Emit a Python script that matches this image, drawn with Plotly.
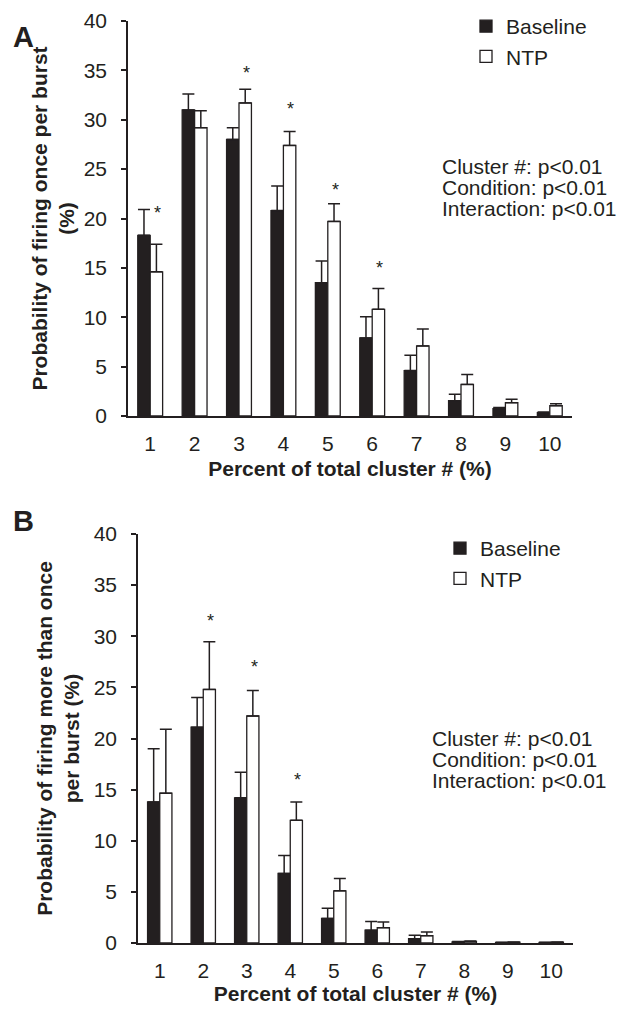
import plotly.graph_objects as go

W, H = 618, 1011
INK = "#231f20"
FONT = "Liberation Sans, Arial, sans-serif"
FS = 21

categories = [1, 2, 3, 4, 5, 6, 7, 8, 9, 10]

# Panel A: probability of firing once per burst (%)
a_baseline = [18.3, 31.0, 28.0, 20.8, 13.5, 7.9, 4.6, 1.55, 0.75, 0.35]
a_baseline_err = [2.6, 1.6, 1.2, 2.5, 2.2, 2.15, 1.55, 0.65, 0.1, 0.06]
a_ntp = [14.6, 29.2, 31.7, 27.4, 19.7, 10.8, 7.1, 3.2, 1.35, 1.05]
a_ntp_err = [2.8, 1.7, 1.4, 1.4, 1.8, 2.1, 1.7, 1.0, 0.35, 0.2]
a_star_x = [1, 3, 4, 5, 6]
a_star_y = [20.9, 35.0, 31.4, 23.2, 15.3]

# Panel B: probability of firing more than once per burst (%)
b_baseline = [13.8, 21.1, 14.2, 6.8, 2.4, 1.25, 0.42, 0.1, 0.05, 0.05]
b_baseline_err = [5.2, 2.9, 2.5, 1.75, 1.0, 0.85, 0.33, 0.05, 0.02, 0.02]
b_ntp = [14.65, 24.8, 22.2, 12.0, 5.1, 1.5, 0.72, 0.15, 0.08, 0.08]
b_ntp_err = [6.25, 4.65, 2.5, 1.8, 1.2, 0.55, 0.35, 0.05, 0.02, 0.02]
b_star_x = [2, 3, 4]
b_star_y = [31.8, 27.3, 16.2]

stats_lines = ["Cluster #: p<0.01", "Condition: p<0.01", "Interaction: p<0.01"]
y_ticks = [0, 5, 10, 15, 20, 25, 30, 35, 40]


def px_x(p):
    return p / W


def px_y(p):
    return 1 - p / H


fig = go.Figure()


def add_bars(vals, errs, name, color, xa, ya, legend, show):
    fig.add_trace(go.Bar(
        x=categories, y=vals, name=name,
        marker=dict(color=color, line=dict(color=INK, width=1.3)),
        error_y=dict(type="data", array=errs, arrayminus=[0] * len(errs),
                     symmetric=False, color=INK, thickness=1.5, width=6),
        xaxis=xa, yaxis=ya, legend=legend, showlegend=show,
    ))


add_bars(a_baseline, a_baseline_err, "Baseline", INK, "x", "y", "legend", True)
add_bars(a_ntp, a_ntp_err, "NTP", "white", "x", "y", "legend", True)
add_bars(b_baseline, b_baseline_err, "Baseline", INK, "x2", "y2", "legend2", True)
add_bars(b_ntp, b_ntp_err, "NTP", "white", "x2", "y2", "legend2", True)

axis_common = dict(showline=True, linecolor=INK, linewidth=1.5, showgrid=False,
                   zeroline=False, automargin=False,
                   tickfont=dict(family=FONT, size=FS, color=INK))

title_font = dict(family=FONT, size=FS, color=INK)

fig.update_layout(
    width=W, height=H,
    margin=dict(l=0, r=0, t=0, b=0, autoexpand=False),
    paper_bgcolor="white", plot_bgcolor="white",
    barmode="group", bargap=0.44, bargroupgap=0,
    font=dict(family=FONT, color=INK),
    xaxis=dict(domain=[px_x(128), px_x(572)], anchor="y", range=[0.5, 10.5],
               tickvals=categories, ticks="", ticklabelstandoff=8,
               title=dict(text="<b>Percent of total cluster # (%)</b>",
                          font=title_font, standoff=7),
               **axis_common),
    yaxis=dict(domain=[px_y(416), px_y(21)], anchor="x", range=[0, 40],
               tickvals=y_ticks, ticks="outside", ticklen=5, tickwidth=1.5,
               tickcolor=INK, ticklabelstandoff=10,
               title=dict(text="<b>Probability of firing once per burst<br>(%)</b>",
                          font=title_font, standoff=3),
               **axis_common),
    xaxis2=dict(domain=[px_x(138), px_x(573)], anchor="y2", range=[0.5, 10.5],
                tickvals=categories, ticks="", ticklabelstandoff=8,
                title=dict(text="<b>Percent of total cluster # (%)</b>",
                           font=title_font, standoff=5),
                **axis_common),
    yaxis2=dict(domain=[px_y(943), px_y(534)], anchor="x2", range=[0, 40],
                tickvals=y_ticks, ticks="outside", ticklen=5, tickwidth=1.5,
                tickcolor=INK, ticklabelstandoff=10,
                title=dict(text="<b>Probability of firing more than once<br>per burst (%)</b>",
                           font=title_font, standoff=8),
                **axis_common),
    legend=dict(x=px_x(466), y=px_y(6), xanchor="left", yanchor="top",
                font=dict(family=FONT, size=FS, color=INK), bgcolor="rgba(0,0,0,0)",
                tracegroupgap=0),
    legend2=dict(x=px_x(440), y=px_y(528), xanchor="left", yanchor="top",
                 font=dict(family=FONT, size=FS, color=INK), bgcolor="rgba(0,0,0,0)",
                 tracegroupgap=0),
)

ann = []
# panel letters
ann.append(dict(text="<b>A</b>", x=px_x(24), y=px_y(37), xref="paper", yref="paper",
                xanchor="center", yanchor="middle",
                showarrow=False, font=dict(family=FONT, size=29, color=INK)))
ann.append(dict(text="<b>B</b>", x=px_x(24), y=px_y(521), xref="paper", yref="paper",
                xanchor="center", yanchor="middle",
                showarrow=False, font=dict(family=FONT, size=29, color=INK)))
# stats text
for i, line in enumerate(stats_lines):
    ann.append(dict(text=line, x=px_x(440), y=px_y(167 + 20.7 * i), xref="paper", yref="paper",
                    xanchor="left", yanchor="middle", showarrow=False,
                    font=dict(family=FONT, size=FS, color=INK)))
    ann.append(dict(text=line, x=px_x(430), y=px_y(738 + 21 * i), xref="paper", yref="paper",
                    xanchor="left", yanchor="middle", showarrow=False,
                    font=dict(family=FONT, size=FS, color=INK)))
# significance stars
for sx, sy in zip(a_star_x, a_star_y):
    ann.append(dict(text="*", x=sx + 0.17, y=sy, xref="x", yref="y", showarrow=False,
                    yanchor="middle", yshift=-3, font=dict(family=FONT, size=18, color=INK)))
for sx, sy in zip(b_star_x, b_star_y):
    ann.append(dict(text="*", x=sx + 0.17, y=sy, xref="x2", yref="y2", showarrow=False,
                    yanchor="middle", yshift=-3, font=dict(family=FONT, size=18, color=INK)))
fig.update_layout(annotations=ann)

fig.write_html("out.html")
